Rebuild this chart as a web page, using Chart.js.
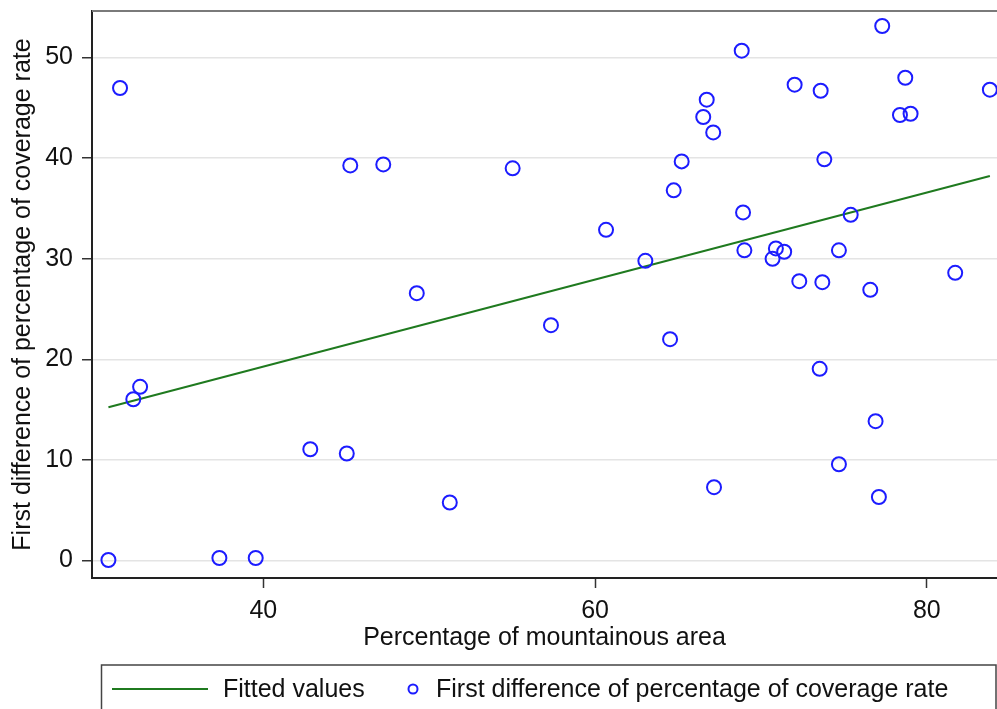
<!DOCTYPE html>
<html>
<head>
<meta charset="utf-8">
<title>Mountainous area vs coverage rate</title>
<script src="https://cdn.jsdelivr.net/npm/chart.js@4/dist/chart.umd.min.js"></script>
<style>
  html, body { margin: 0; padding: 0; background: #fff; }
  #wrap { width: 997px; height: 709px; position: relative; }
</style>
</head>
<body>
<div id="wrap"><canvas id="chart"></canvas></div>
<script>
// percentage of mountainous area (x) and first difference of coverage rate (y)
const mountainPct = [
  30.66, 31.36, 32.16, 32.57, 37.35, 39.54, 42.83, 45.03, 45.24, 47.23,
  49.25, 51.24, 55.03, 57.34, 60.66, 63.03, 64.52, 64.74, 65.22, 66.52,
  66.73, 67.12, 67.17, 68.84, 68.92, 69.00, 70.70, 70.90, 71.40, 72.03,
  72.31, 73.60, 73.70, 73.54, 73.82, 74.70, 74.70, 75.41, 76.59, 76.91,
  77.11, 77.31, 78.38, 78.70, 79.02, 81.71, 83.80
];
const coverageDiff = [
   0.06, 46.95, 16.03, 17.26,  0.26,  0.26, 11.06, 10.64, 39.26, 39.36,
  26.57,  5.77, 38.97, 23.39, 32.86, 29.78, 22.00, 36.78, 39.66, 44.07,
  45.79, 42.54,  7.29, 50.66, 34.59, 30.82, 29.98, 31.01, 30.68, 47.28,
  27.76, 46.68, 27.66, 19.05, 39.86,  9.57, 30.82, 34.35, 26.90, 13.85,
   6.32, 53.11, 44.27, 47.97, 44.39, 28.59, 46.78
];

// fitted line end points (min and max of x)
const fitX = [30.66, 83.80];
const fitY = [15.24, 38.20];

const xTicks = [40, 60, 80];
const yTicks = [0, 10, 20, 30, 40, 50];

const labels = {
  fit: 'Fitted values',
  scatter: 'First difference of percentage of coverage rate',
  xTitle: 'Percentage of mountainous area',
  yTitle: 'First difference of percentage of coverage rate'
};

const FONT = "'Liberation Sans', Arial, Helvetica, sans-serif";
const TEXT = '#111';
const BLUE = '#1c1cff';
const GREEN = '#1f7a1f';

// frame top line + stata style legend box under the plot
const stataLegend = {
  id: 'stataLegend',
  afterDraw(chart) {
    const ctx = chart.ctx;
    const a = chart.chartArea;
    ctx.save();

    // top border of plot region
    ctx.strokeStyle = '#7a7a7a';
    ctx.lineWidth = 2;
    ctx.beginPath();
    ctx.moveTo(a.left, a.top);
    ctx.lineTo(a.right, a.top);
    ctx.stroke();

    // legend box
    ctx.strokeStyle = '#444';
    ctx.lineWidth = 1.5;
    ctx.strokeRect(101.5, 665, 894.5, 80);

    const y = 689;
    const fitDs = chart.data.datasets[1];
    const ptDs = chart.data.datasets[0];

    ctx.strokeStyle = fitDs.borderColor;
    ctx.lineWidth = fitDs.borderWidth;
    ctx.beginPath();
    ctx.moveTo(112, y);
    ctx.lineTo(208, y);
    ctx.stroke();

    ctx.font = '25px ' + FONT;
    ctx.fillStyle = TEXT;
    ctx.textBaseline = 'middle';
    ctx.textAlign = 'left';
    ctx.fillText(fitDs.label, 223, y + 1);

    ctx.strokeStyle = ptDs.borderColor;
    ctx.lineWidth = 2;
    ctx.beginPath();
    ctx.arc(413, y, 4.5, 0, Math.PI * 2);
    ctx.stroke();

    ctx.fillText(ptDs.label, 436, y + 1);
    ctx.restore();
  }
};

const chart = new Chart(document.getElementById('chart'), {
  type: 'scatter',
  data: {
    datasets: [
      {
        label: labels.scatter,
        data: mountainPct.map((x, i) => ({ x: x, y: coverageDiff[i] })),
        pointStyle: 'circle',
        pointRadius: 7,
        pointBorderWidth: 2,
        borderColor: BLUE,
        backgroundColor: 'rgba(0,0,0,0)',
        pointHoverRadius: 7,
        order: 0
      },
      {
        label: labels.fit,
        type: 'line',
        data: fitX.map((x, i) => ({ x: x, y: fitY[i] })),
        borderColor: GREEN,
        borderWidth: 2,
        pointRadius: 0,
        fill: false,
        tension: 0,
        order: 1
      }
    ]
  },
  options: {
    responsive: true,
    maintainAspectRatio: false,
    animation: false,
    devicePixelRatio: 1,
    layout: { autoPadding: false, padding: { top: 11, right: 0, bottom: 52, left: 0 } },
    plugins: {
      legend: { display: false },
      tooltip: { enabled: false }
    },
    scales: {
      x: {
        type: 'linear',
        min: 29.67,
        max: 84.23,
        afterBuildTicks: s => { s.ticks = xTicks.map(v => ({ value: v })); },
        afterFit: s => { s.height = 79; s.paddingLeft = 0; s.paddingRight = 0; },
        ticks: {
          color: TEXT,
          font: { family: FONT, size: 25 },
          padding: 8,
          maxRotation: 0
        },
        grid: {
          drawOnChartArea: false,
          drawTicks: true,
          tickLength: 10,
          tickColor: '#333',
          tickWidth: 1.5
        },
        border: { color: '#222', width: 2 },
        title: {
          display: true,
          text: labels.xTitle,
          color: TEXT,
          font: { family: FONT, size: 25 },
          padding: { top: 0, bottom: 4 }
        }
      },
      y: {
        type: 'linear',
        min: -1.73,
        max: 54.6,
        afterBuildTicks: s => { s.ticks = yTicks.map(v => ({ value: v })); },
        afterFit: s => { s.width = 92; s.paddingTop = 0; s.paddingBottom = 0; },
        ticks: {
          color: TEXT,
          font: { family: FONT, size: 25 },
          padding: 9
        },
        grid: {
          color: '#e4e4e4',
          lineWidth: 1.5,
          drawTicks: true,
          tickLength: 10,
          tickColor: '#333',
          tickWidth: 1.5
        },
        border: { color: '#222', width: 2 },
        title: {
          display: true,
          text: labels.yTitle,
          color: TEXT,
          font: { family: FONT, size: 25 },
          padding: { top: 8, bottom: 0 }
        }
      }
    }
  },
  plugins: [stataLegend]
});
</script>
</body>
</html>
